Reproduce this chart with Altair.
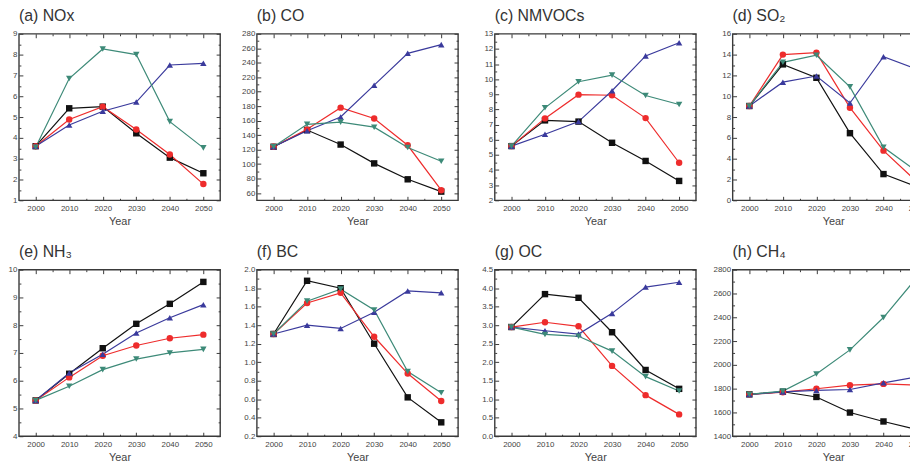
import altair as alt
import pandas as pd
import numpy as np

years = [2000, 2010, 2020, 2030, 2040, 2050]
series = ["S1", "S2", "S3", "S4"]
colors = ["#111111", "#ee2c2c", "#3a3a9c", "#3d8a78"]
shapes = ["square", "circle", "triangle-up", "triangle-down"]

# (a) NOx
nox_s1 = [3.6, 5.42, 5.5, 4.22, 3.05, 2.3]
nox_s2 = [3.6, 4.88, 5.5, 4.4, 3.2, 1.78]
nox_s3 = [3.6, 4.62, 5.28, 5.72, 7.5, 7.58]
nox_s4 = [3.55, 6.85, 8.27, 8.0, 4.78, 3.52]
# (b) CO
co_s1 = [124, 147, 127, 101, 79, 62]
co_s2 = [124, 148, 178, 163, 126, 64]
co_s3 = [124, 146, 165, 209, 253, 265]
co_s4 = [124, 155, 158, 151, 123, 104]
# (c) NMVOCs
voc_s1 = [5.58, 7.28, 7.2, 5.8, 4.6, 3.28]
voc_s2 = [5.58, 7.41, 8.98, 8.94, 7.43, 4.48]
voc_s3 = [5.58, 6.36, 7.2, 9.24, 11.54, 12.41]
voc_s4 = [5.58, 8.11, 9.83, 10.27, 8.92, 8.33]
# (d) SO2
so2_s1 = [9.06, 13.06, 11.77, 6.45, 2.52, 1.29]
so2_s2 = [9.06, 14.0, 14.19, 8.9, 4.77, 1.77]
so2_s3 = [9.06, 11.35, 11.94, 9.35, 13.8, 12.58]
so2_s4 = [9.06, 13.26, 13.94, 10.9, 5.1, 2.77]
# (e) NH3
nh3_s1 = [5.29, 6.25, 7.17, 8.05, 8.77, 9.56]
nh3_s2 = [5.29, 6.12, 6.9, 7.27, 7.53, 7.66]
nh3_s3 = [5.29, 6.28, 6.95, 7.72, 8.27, 8.74]
nh3_s4 = [5.29, 5.8, 6.4, 6.78, 7.0, 7.13]
# (f) BC
bc_s1 = [1.305, 1.88, 1.80, 1.20, 0.62, 0.35]
bc_s2 = [1.305, 1.64, 1.75, 1.275, 0.877, 0.58]
bc_s3 = [1.305, 1.40, 1.365, 1.54, 1.77, 1.75]
bc_s4 = [1.305, 1.66, 1.79, 1.565, 0.90, 0.67]
# (g) OC
oc_s1 = [2.95, 3.84, 3.74, 2.81, 1.79, 1.28]
oc_s2 = [2.95, 3.08, 2.97, 1.90, 1.11, 0.59]
oc_s3 = [2.95, 2.85, 2.76, 3.32, 4.03, 4.16]
oc_s4 = [2.95, 2.75, 2.70, 2.30, 1.61, 1.22]
# (h) CH4
ch4_s1 = [1752, 1774, 1730, 1599, 1524, 1455]
ch4_s2 = [1752, 1770, 1799, 1829, 1840, 1829]
ch4_s3 = [1752, 1772, 1785, 1793, 1849, 1898]
ch4_s4 = [1752, 1779, 1923, 2126, 2398, 2736]

panels = [
    ("(a) NOx", [nox_s1, nox_s2, nox_s3, nox_s4], 1, 9, 1, "d"),
    ("(b) CO", [co_s1, co_s2, co_s3, co_s4], 50, 280, 20, "d"),
    ("(c) NMVOCs", [voc_s1, voc_s2, voc_s3, voc_s4], 2, 13, 1, "d"),
    ("(d) SO₂", [so2_s1, so2_s2, so2_s3, so2_s4], 0, 16, 2, "d"),
    ("(e) NH₃", [nh3_s1, nh3_s2, nh3_s3, nh3_s4], 4, 10, 1, "d"),
    ("(f) BC", [bc_s1, bc_s2, bc_s3, bc_s4], 0.2, 2.0, 0.2, ".1f"),
    ("(g) OC", [oc_s1, oc_s2, oc_s3, oc_s4], 0.0, 4.5, 0.5, ".1f"),
    ("(h) CH₄", [ch4_s1, ch4_s2, ch4_s3, ch4_s4], 1400, 2800, 200, "d"),
]

W, H = 203, 168
FONT = "Liberation Sans"
FRAME = "#3a3a3a"
LBL = "#444444"


def make_panel(title, vals, ymin, ymax, step, fmt):
    rows = []
    for s, v in zip(series, vals):
        for yr, val in zip(years, v):
            rows.append({"year": yr, "value": val, "series": s})
    d = pd.DataFrame(rows)

    first_major = np.ceil(ymin / step - 1e-9) * step
    major = [round(float(v), 4) for v in np.arange(first_major, ymax + step / 2, step)]
    minor = [round(float(v), 4) for v in np.arange(first_major - step / 2, ymax, step)]
    minor = [m for m in minor if ymin < m < ymax]
    xmajor = years
    xminor = [y + 5 for y in years[:-1]]

    xs = alt.Scale(domain=[1995, 2055], nice=False, zero=False)
    ys = alt.Scale(domain=[ymin, ymax], nice=False, zero=False)
    cscale = alt.Scale(domain=series, range=colors)
    sscale = alt.Scale(domain=series, range=shapes)

    base = alt.Chart(d)
    line = base.mark_line(strokeWidth=1.2).encode(
        x=alt.X("year:Q", scale=xs, axis=alt.Axis(
            values=xmajor, format="d", title="Year", ticks=False, domain=False, grid=False,
            labelFontSize=8, labelColor=LBL, labelFont=FONT, labelPadding=4,
            titleFontSize=11, titleFont=FONT, titleFontWeight="normal", titleColor=LBL, titlePadding=3)),
        y=alt.Y("value:Q", scale=ys, axis=alt.Axis(
            values=major, format=fmt, title=None, ticks=False, domain=False, grid=False,
            labelFontSize=8, labelColor=LBL, labelFont=FONT, labelPadding=2, minExtent=0)),
        color=alt.Color("series:N", scale=cscale, legend=None),
    )
    pts = base.mark_point(filled=True, size=42, opacity=1).encode(
        x=alt.X("year:Q", scale=xs, axis=None),
        y=alt.Y("value:Q", scale=ys, axis=None),
        color=alt.Color("series:N", scale=cscale, legend=None),
        shape=alt.Shape("series:N", scale=sscale, legend=None),
    )

    def tick_layer(xorient, yorient, xvals, yvals, size):
        return base.mark_point(opacity=0).encode(
            x=alt.X("year:Q", scale=xs, axis=alt.Axis(
                orient=xorient, offset=-H, values=xvals, labels=False, domain=False, grid=False,
                tickSize=size, tickColor=FRAME, tickWidth=1, title=None, minExtent=0)),
            y=alt.Y("value:Q", scale=ys, axis=alt.Axis(
                orient=yorient, offset=-W, values=yvals, labels=False, domain=False, grid=False,
                tickSize=size, tickColor=FRAME, tickWidth=1, title=None, minExtent=0)),
        )

    layers = [
        tick_layer("bottom", "right", xmajor, major, 4),
        tick_layer("top", "left", xmajor, major, 4),
        tick_layer("bottom", "right", xminor, minor, 2),
        tick_layer("top", "left", xminor, minor, 2),
        line, pts,
    ]
    return alt.layer(*layers).resolve_axis(x="independent", y="independent").properties(
        width=W, height=H,
        title=alt.TitleParams(title, anchor="start", frame="group", fontSize=16, font=FONT,
                              fontWeight="normal", color="#333333", offset=6),
    )


charts = [make_panel(*p) for p in panels]

PAD_L, PAD_T = 11, 24
SVG_W, SVG_H = 910, 454

chart = alt.concat(*charts, columns=4, spacing=alt.RowColnumber(row=70, column=37), bounds="flush").configure_view(
    stroke=FRAME, strokeWidth=1.4
).properties(
    autosize=alt.AutoSizeParams(type="none"),
    padding={"left": PAD_L, "top": PAD_T, "right": SVG_W - PAD_L, "bottom": SVG_H - PAD_T},
)

chart.save("out.html", embed_options={"renderer": "svg", "actions": False})
